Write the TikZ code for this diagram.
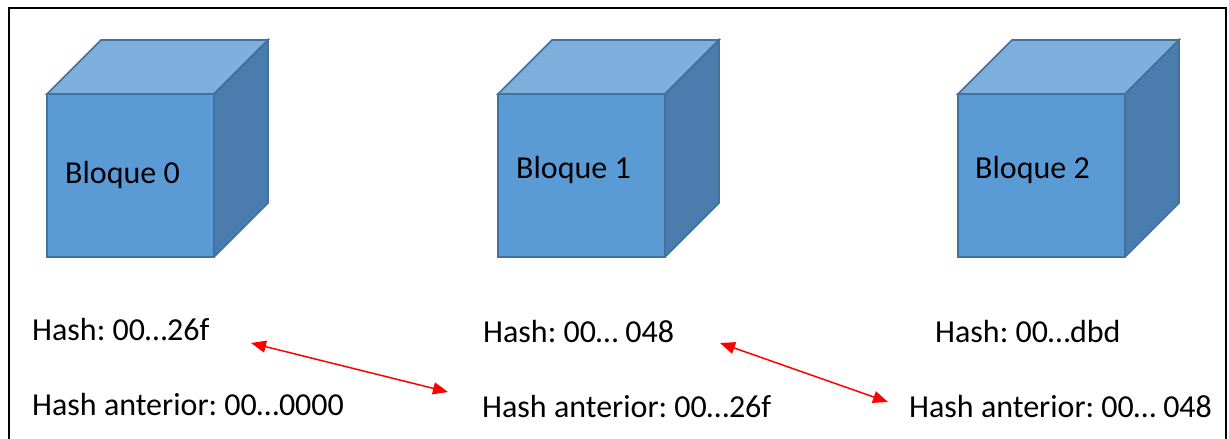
\documentclass[tikz,border=0pt]{standalone}
\usepackage{fontspec}
\setmainfont{Carlito}
\usetikzlibrary{arrows.meta}
\definecolor{cubefront}{HTML}{5B9BD5}
\definecolor{cubetop}{HTML}{7DAEDC}
\definecolor{cubeside}{HTML}{4A7DAD}
\definecolor{cubeedge}{HTML}{41719C}
\tikzset{
  cubeface/.style={draw=cubeedge, line width=1.6pt, line join=miter},
  label/.style={anchor=base west, inner sep=0pt, font=\fontsize{32}{36}\selectfont\frenchspacing},
  link/.style={draw=red, line width=1.5pt, {Triangle[length=15pt,width=12pt]}-{Triangle[length=15pt,width=12pt]}},
}
% cube with front face from (#1,94) to (#1+167,257) and depth 54
\newcommand{\blockcube}[2]{%
  \coordinate (#2) at (#1,94);
  \fill[cubetop] (#1,94) -- ++(54,-54) -- ++(167,0) -- ++(-54,54) -- cycle;
  \fill[cubeside] (#1+167,94) -- ++(54,-54) -- ++(0,163) -- ++(-54,54) -- cycle;
  \fill[cubefront] (#1,94) rectangle ++(167,163);
  \draw[cubeface] (#1,94) -- ++(54,-54) -- ++(167,0) -- ++(-54,54) -- cycle;
  \draw[cubeface] (#1+167,94) -- ++(54,-54) -- ++(0,163) -- ++(-54,54);
  \draw[cubeface] (#1,94) rectangle ++(167,163);
}
\begin{document}
\begin{tikzpicture}[x=1pt,y=-1pt]
\useasboundingbox (0,0) rectangle (1229,439);
\fill[white] (0,0) rectangle (1229,439);
% frame open at the bottom
\draw[line width=2.6pt] (9,445) -- (9,8) -- (1226,8) -- (1226,445);

\blockcube{47}{c0}
\blockcube{498}{c1}
\blockcube{958}{c2}

\node[label] (b0) at (65,183) {Bloque 0};
\node[label] (b1) at (516,178) {Bloque 1};
\node[label] (b2) at (975,178) {Bloque 2};

\node[label] (h0) at (32,340) {Hash: 00…26f};
\node[label] (h1) at (483,342) {Hash: 00… 048};
\node[label] (h2) at (935,342) {Hash: 00…dbd};

\node[label] (p0) at (32,415) {Hash anterior: 00…0000};
\node[label] (p1) at (482,417) {Hash anterior: 00…26f};
\node[label] (p2) at (909,417) {Hash anterior: 00… 048};

\coordinate (a0s) at (251,343);
\coordinate (a0e) at (448,392);
\coordinate (a1s) at (720,343);
\coordinate (a1e) at (888,402);
\draw[link] (a0s) -- (a0e);
\draw[link] (a1s) -- (a1e);
\end{tikzpicture}
\end{document}
